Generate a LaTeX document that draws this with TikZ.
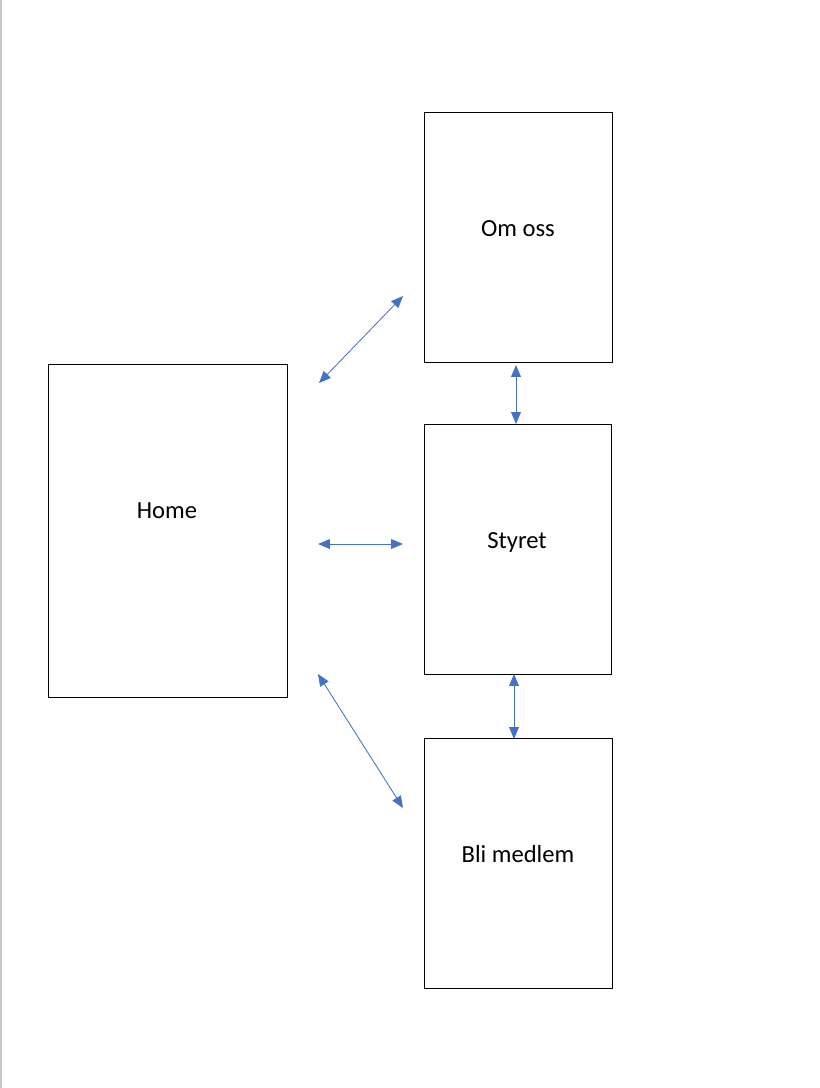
\documentclass[tikz,border=0pt]{standalone}
\usepackage{fontspec}
\setmainfont{Carlito}
\usetikzlibrary{arrows.meta,positioning}
\definecolor{linkblue}{HTML}{4472C4}
\tikzset{
 page/.style={draw,line width=0.6pt,inner sep=0pt,outer sep=0pt},
 link/.style={linkblue,line width=0.6pt,{Triangle[length=8.5pt,width=7pt]}-{Triangle[length=8.5pt,width=7pt]}}
}
\begin{document}
\begin{tikzpicture}[x=0.025cm,y=-0.025cm,font=\fontsize{17.5}{20}\selectfont]
\useasboundingbox (0,0) rectangle (820,1088);
\fill[black!22] (0,0) rectangle (2,1088);
% pages
\node[page,minimum width=5.975cm,minimum height=8.325cm] (home) at (167.5,530.5) {};
\node[page,minimum width=4.7cm,minimum height=6.25cm] (omoss) at (518,237) {};
\node[page,minimum width=4.675cm,minimum height=6.25cm] (styret) at (517.5,549) {};
\node[page,minimum width=4.7cm,minimum height=6.25cm] (blimedlem) at (518,863) {};
\node[anchor=base] (homet) at (167,518) {Home};
\node[anchor=base] (omosst) at (518,236) {Om oss};
\node[anchor=base] (styrett) at (517,548) {Styret};
\node[anchor=base] (blimedlemt) at (518,862) {Bli medlem};
% link ends
\coordinate (h1) at (319,383);
\coordinate (o1) at (403,296);
\coordinate (h2) at (318,544);
\coordinate (s1) at (403,544);
\coordinate (h3) at (318,674);
\coordinate (b1) at (403,808);
\coordinate (o2) at (516,365);
\coordinate (s2) at (516,424);
\coordinate (s3) at (514,674);
\coordinate (b2) at (514,739);
\draw[link] (h1)--(o1);
\draw[link] (h2)--(s1);
\draw[link] (h3)--(b1);
\draw[link] (o2)--(s2);
\draw[link] (s3)--(b2);
\end{tikzpicture}
\end{document}
